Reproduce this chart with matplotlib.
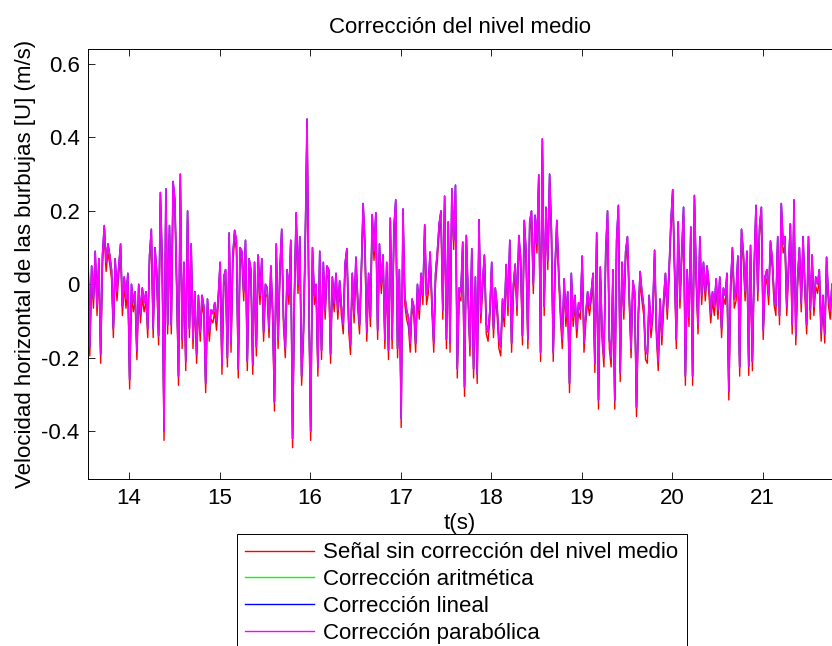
import numpy as np
import matplotlib.pyplot as plt

plt.rcParams['font.family'] = ['Liberation Sans', 'DejaVu Sans']
plt.rcParams['axes.unicode_minus'] = False

# velocidad horizontal ya corregida (m/s), muestreada cada dt desde t_inicio
t_inicio = 13.547
dt = 0.02
u_corregida = [
    0.08, -0.17, 0.05, -0.04, 0.09, -0.06, 0.07, -0.19, 0.08, 0.16,
    0.06, 0.11, 0.08, 0.04, -0.12, 0.07, -0.02, 0.05, 0.11, -0.06,
    0.02, -0.04, 0.03, -0.26, 0.0, -0.05, -0.02, -0.18, 0.0, -0.08,
    -0.01, -0.05, -0.02, -0.12, 0.08, 0.15, -0.12, 0.10, 0.03, -0.14,
    0.25, 0.06, -0.40, 0.26, -0.11, 0.16, -0.11, 0.28, 0.23, 0.0,
    -0.25, 0.30, -0.15, 0.06, -0.21, 0.20, -0.12, 0.11, -0.15, -0.02,
    -0.19, -0.03, -0.13, -0.03, -0.06, -0.27, -0.04, -0.13, -0.07,
    -0.08, -0.05, -0.10, -0.03, 0.06, -0.22, 0.02, 0.04, -0.20, 0.14,
    -0.16, 0.08, 0.147, 0.12, -0.23, 0.10, 0.09, -0.02, 0.12, -0.21,
    0.07, 0.04, -0.22, 0.06, -0.17, 0.08, -0.03, 0.07, -0.13, 0.0,
    -0.01, -0.12, 0.05, -0.07, -0.32, 0.11, -0.15, 0.04, 0.15, -0.09,
    -0.175, 0.04, -0.03, 0.12, -0.42, -0.03, 0.195, 0.0, 0.13, -0.25,
    -0.13, 0.115, 0.45, -0.03, -0.40, 0.10, -0.03, 0.0, -0.225, 0.09,
    -0.18, 0.06, -0.07, 0.05, 0.04, -0.19, 0.02, -0.05, 0.03,
    -0.07, 0.01, -0.06, -0.11, 0.056, 0.097, -0.10, -0.166, 0.03, -0.08,
    0.074, -0.04, -0.11, 0.04, 0.22, 0.11, -0.13, 0.03, -0.09, 0.19,
    0.09, 0.195, -0.125, 0.11, 0.0, 0.08, -0.15, 0.06, -0.18, 0.18,
    -0.15, 0.155, 0.23, -0.175, 0.04, -0.365, 0.205, -0.03, -0.07, -0.09,
    -0.16, -0.04, -0.06, -0.16, 0.0, -0.07, 0.03, -0.03, 0.162, -0.03,
    0.0, 0.088, -0.05, -0.16, 0.03, 0.09, 0.165, 0.20, -0.07, 0.24,
    -0.15, 0.17, -0.16, 0.26, 0.12, 0.27, -0.23, -0.01, -0.02,
    0.115, -0.28, 0.133, -0.03, -0.17, 0.097, -0.23, 0.02, -0.245, 0.176,
    -0.08, 0.01, 0.08, -0.11, -0.13, -0.07, 0.06, -0.12, -0.01, -0.06,
    -0.15, -0.17, -0.04, -0.09, 0.054, -0.06, 0.12, -0.16, 0.0, 0.055,
    -0.06, 0.133, 0.07, -0.14, 0.174, 0.09, -0.15, 0.17, 0.2, 0.0,
    0.188, 0.11, 0.298, -0.185, 0.396, -0.06, 0.21, 0.065, 0.30, 0.15,
    -0.185, 0.05, 0.174, 0.04, -0.07, -0.15, 0.015, -0.09, -0.02, -0.27,
    0.03, -0.09, -0.03, -0.12, -0.05, -0.07, 0.077, -0.16, -0.08,
    -0.02, -0.06, -0.02, 0.03, -0.215, 0.14, -0.315, 0.047, -0.13, -0.2,
    0.093, 0.20, -0.15, -0.2, 0.04, -0.315, 0.12, 0.215, -0.24, 0.06,
    -0.07, 0.09, 0.13, -0.03, -0.175, 0.01, -0.02, -0.335, -0.08, 0.035,
    -0.02, -0.06, -0.18, -0.19, -0.03, -0.12, -0.07, 0.093, -0.12, -0.21,
    -0.04, -0.14, -0.04, 0.03, -0.07, 0.04, 0.17, 0.258, 0.05, -0.15,
    0.17, -0.04, 0.09, 0.21, -0.25, 0.04, -0.09, 0.156, -0.25, 0.242,
    0.02, -0.11, 0.13, -0.03, 0.06, -0.02, 0.05,
    0.0, -0.08, -0.02, -0.06, 0.015, -0.07, 0.02, -0.12, -0.01, -0.03,
    0.03, -0.29, 0.0, 0.10, -0.04, -0.02, 0.077, -0.225, 0.15, 0.088,
    -0.02, 0.09, -0.223, 0.106, -0.21, 0.05, 0.215, -0.02, 0.16, 0.21,
    -0.125, 0.02, 0.04, -0.03, 0.118, 0.07, -0.03, -0.06, 0.13, -0.085,
    0.22, 0.11, 0.13, -0.06, 0.05, 0.165, -0.11, 0.23, -0.14, 0.02,
    0.1, -0.05, 0.13, 0.0, -0.11, 0.13, -0.07, 0.08, -0.06, 0.02,
    0.0, 0.04, -0.13, -0.03, -0.135, 0.074, -0.03, -0.07, 0.0,
]
# nivel medio de la señal original
nivel_medio = -0.025

etiquetas = ['Señal sin corrección del nivel medio', 'Corrección aritmética',
             'Corrección lineal', 'Corrección parabólica']
colores = ['#ff0000', '#00ff00', '#0000ff', '#ff00ff']

x_ticks = [14, 15, 16, 17, 18, 19, 20, 21]
y_ticks = [-0.4, -0.2, 0, 0.2, 0.4, 0.6]
y_ticklabels = ['-0.4', '-0.2', '0', '0.2', '0.4', '0.6']

u = np.array(u_corregida)
t = t_inicio + dt * np.arange(len(u))
u_bruta = u + nivel_medio
series = [u_bruta, u, u, u]

fig = plt.figure(figsize=(8.32, 6.46), dpi=100)
ax = fig.add_axes([88 / 832, 1 - 479.3 / 646, 744 / 832, 430 / 646])

lineas = []
for s, c, lab in zip(series, colores, etiquetas):
    l, = ax.plot(t, s, color=c, lw=1.0, label=lab)
    lineas.append(l)
# la parabólica queda encima y tapa a las otras dos correcciones
lineas[-1].set_linewidth(1.2)

ax.set_xlim(t_inicio, 21.767)
ax.set_ylim(-0.531, 0.64)
ax.set_xticks(x_ticks)
ax.set_yticks(y_ticks)
ax.set_yticklabels(y_ticklabels)
ax.spines['right'].set_visible(False)
for sp in ax.spines.values():
    sp.set_linewidth(0.7)
ax.tick_params(direction='in', length=5, width=0.6, labelsize=16,
               top=True, right=False, pad=6)

ax.set_title('Corrección del nivel medio', fontsize=16, pad=12)
ax.set_xlabel('t(s)', fontsize=16, labelpad=3)
ax.set_ylabel('Velocidad horizontal de las burbujas [U] (m/s)', fontsize=16)

leg = fig.legend(lineas, etiquetas, loc='upper left',
                 bbox_to_anchor=(237 / 832, 1 - 534 / 646),
                 bbox_transform=fig.transFigure, fontsize=16,
                 fancybox=False, framealpha=1, edgecolor='black',
                 borderpad=0.38, labelspacing=0.26, handlelength=3.1,
                 handletextpad=0.4, borderaxespad=0)
leg.get_frame().set_linewidth(0.7)
for h in leg.get_lines():
    h.set_linewidth(1.0)

fig.savefig('out.png', dpi=100)
